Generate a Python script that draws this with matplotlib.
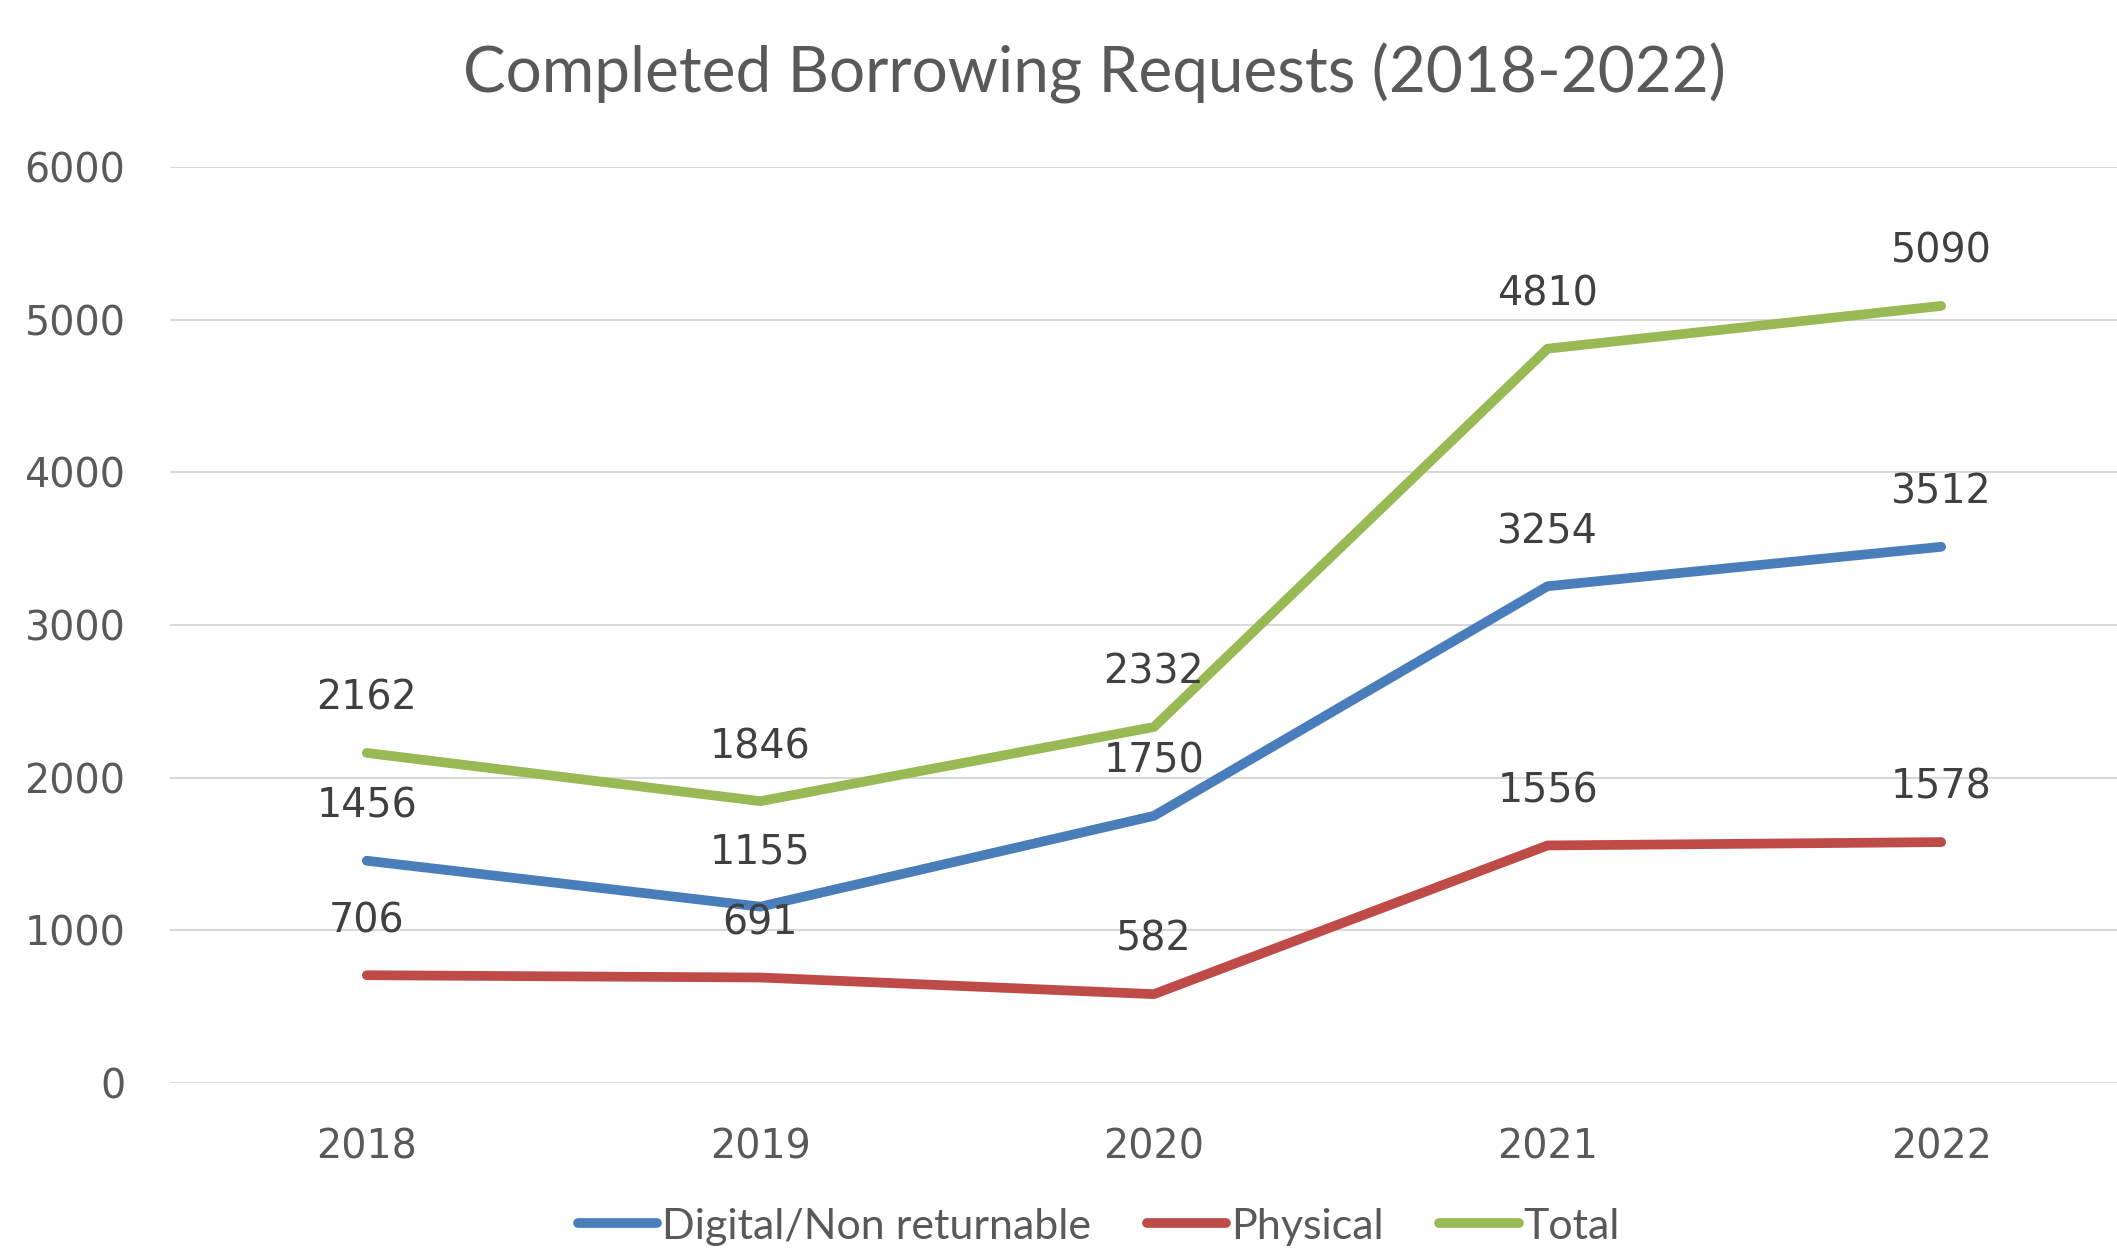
import matplotlib
matplotlib.use("Agg")
import matplotlib.pyplot as plt

# data
years = ["2018", "2019", "2020", "2021", "2022"]
digital = [1456, 1155, 1750, 3254, 3512]
physical = [706, 691, 582, 1556, 1578]
total = [2162, 1846, 2332, 4810, 5090]

series_names = ["Digital/Non returnable", "Physical", "Total"]
colors = ["#4A7EBB", "#BE4B48", "#98B954"]

TEXT = "#595959"
NARROW = ["Lato", "DejaVu Sans"]

fig = plt.figure(figsize=(21.17, 12.49), dpi=100)
ax = fig.add_axes([0.0803, 0.1329, 0.9296, 0.7334])

x = list(range(len(years)))
for vals, name, c in zip([digital, physical, total], series_names, colors):
    ax.plot(x, vals, color=c, lw=7, solid_capstyle="round", label=name, zorder=3)
    for xi, v in zip(x, vals):
        ax.annotate(str(v), (xi, v), xytext=(0, 39), textcoords="offset points",
                    ha="center", va="center", fontsize=28.5, color="#404040")

ax.set_xlim(-0.5, 4.5)
ax.set_ylim(0, 6000)
ax.set_yticks(range(0, 6001, 1000))
ax.set_xticks(x)
ax.set_xticklabels(years)
ax.tick_params(length=0, labelsize=28.5, labelcolor=TEXT, pad=32)
ax.grid(axis="y", color="#D9D9D9", lw=1.5)
ax.set_axisbelow(True)
for s in ax.spines.values():
    s.set_visible(False)

fig.text(0.517, 0.941, "Completed Borrowing Requests (2018-2022)", ha="center", va="center",
         fontsize=46, color=TEXT, family=NARROW)

fig.legend(loc="center", bbox_to_anchor=(0.519, 0.018), ncol=3, frameon=False,
           prop={"family": NARROW, "size": 31}, labelcolor=TEXT,
           handlelength=1.85, handletextpad=0.1, columnspacing=1.3)

fig.savefig("out.png", dpi=100)
